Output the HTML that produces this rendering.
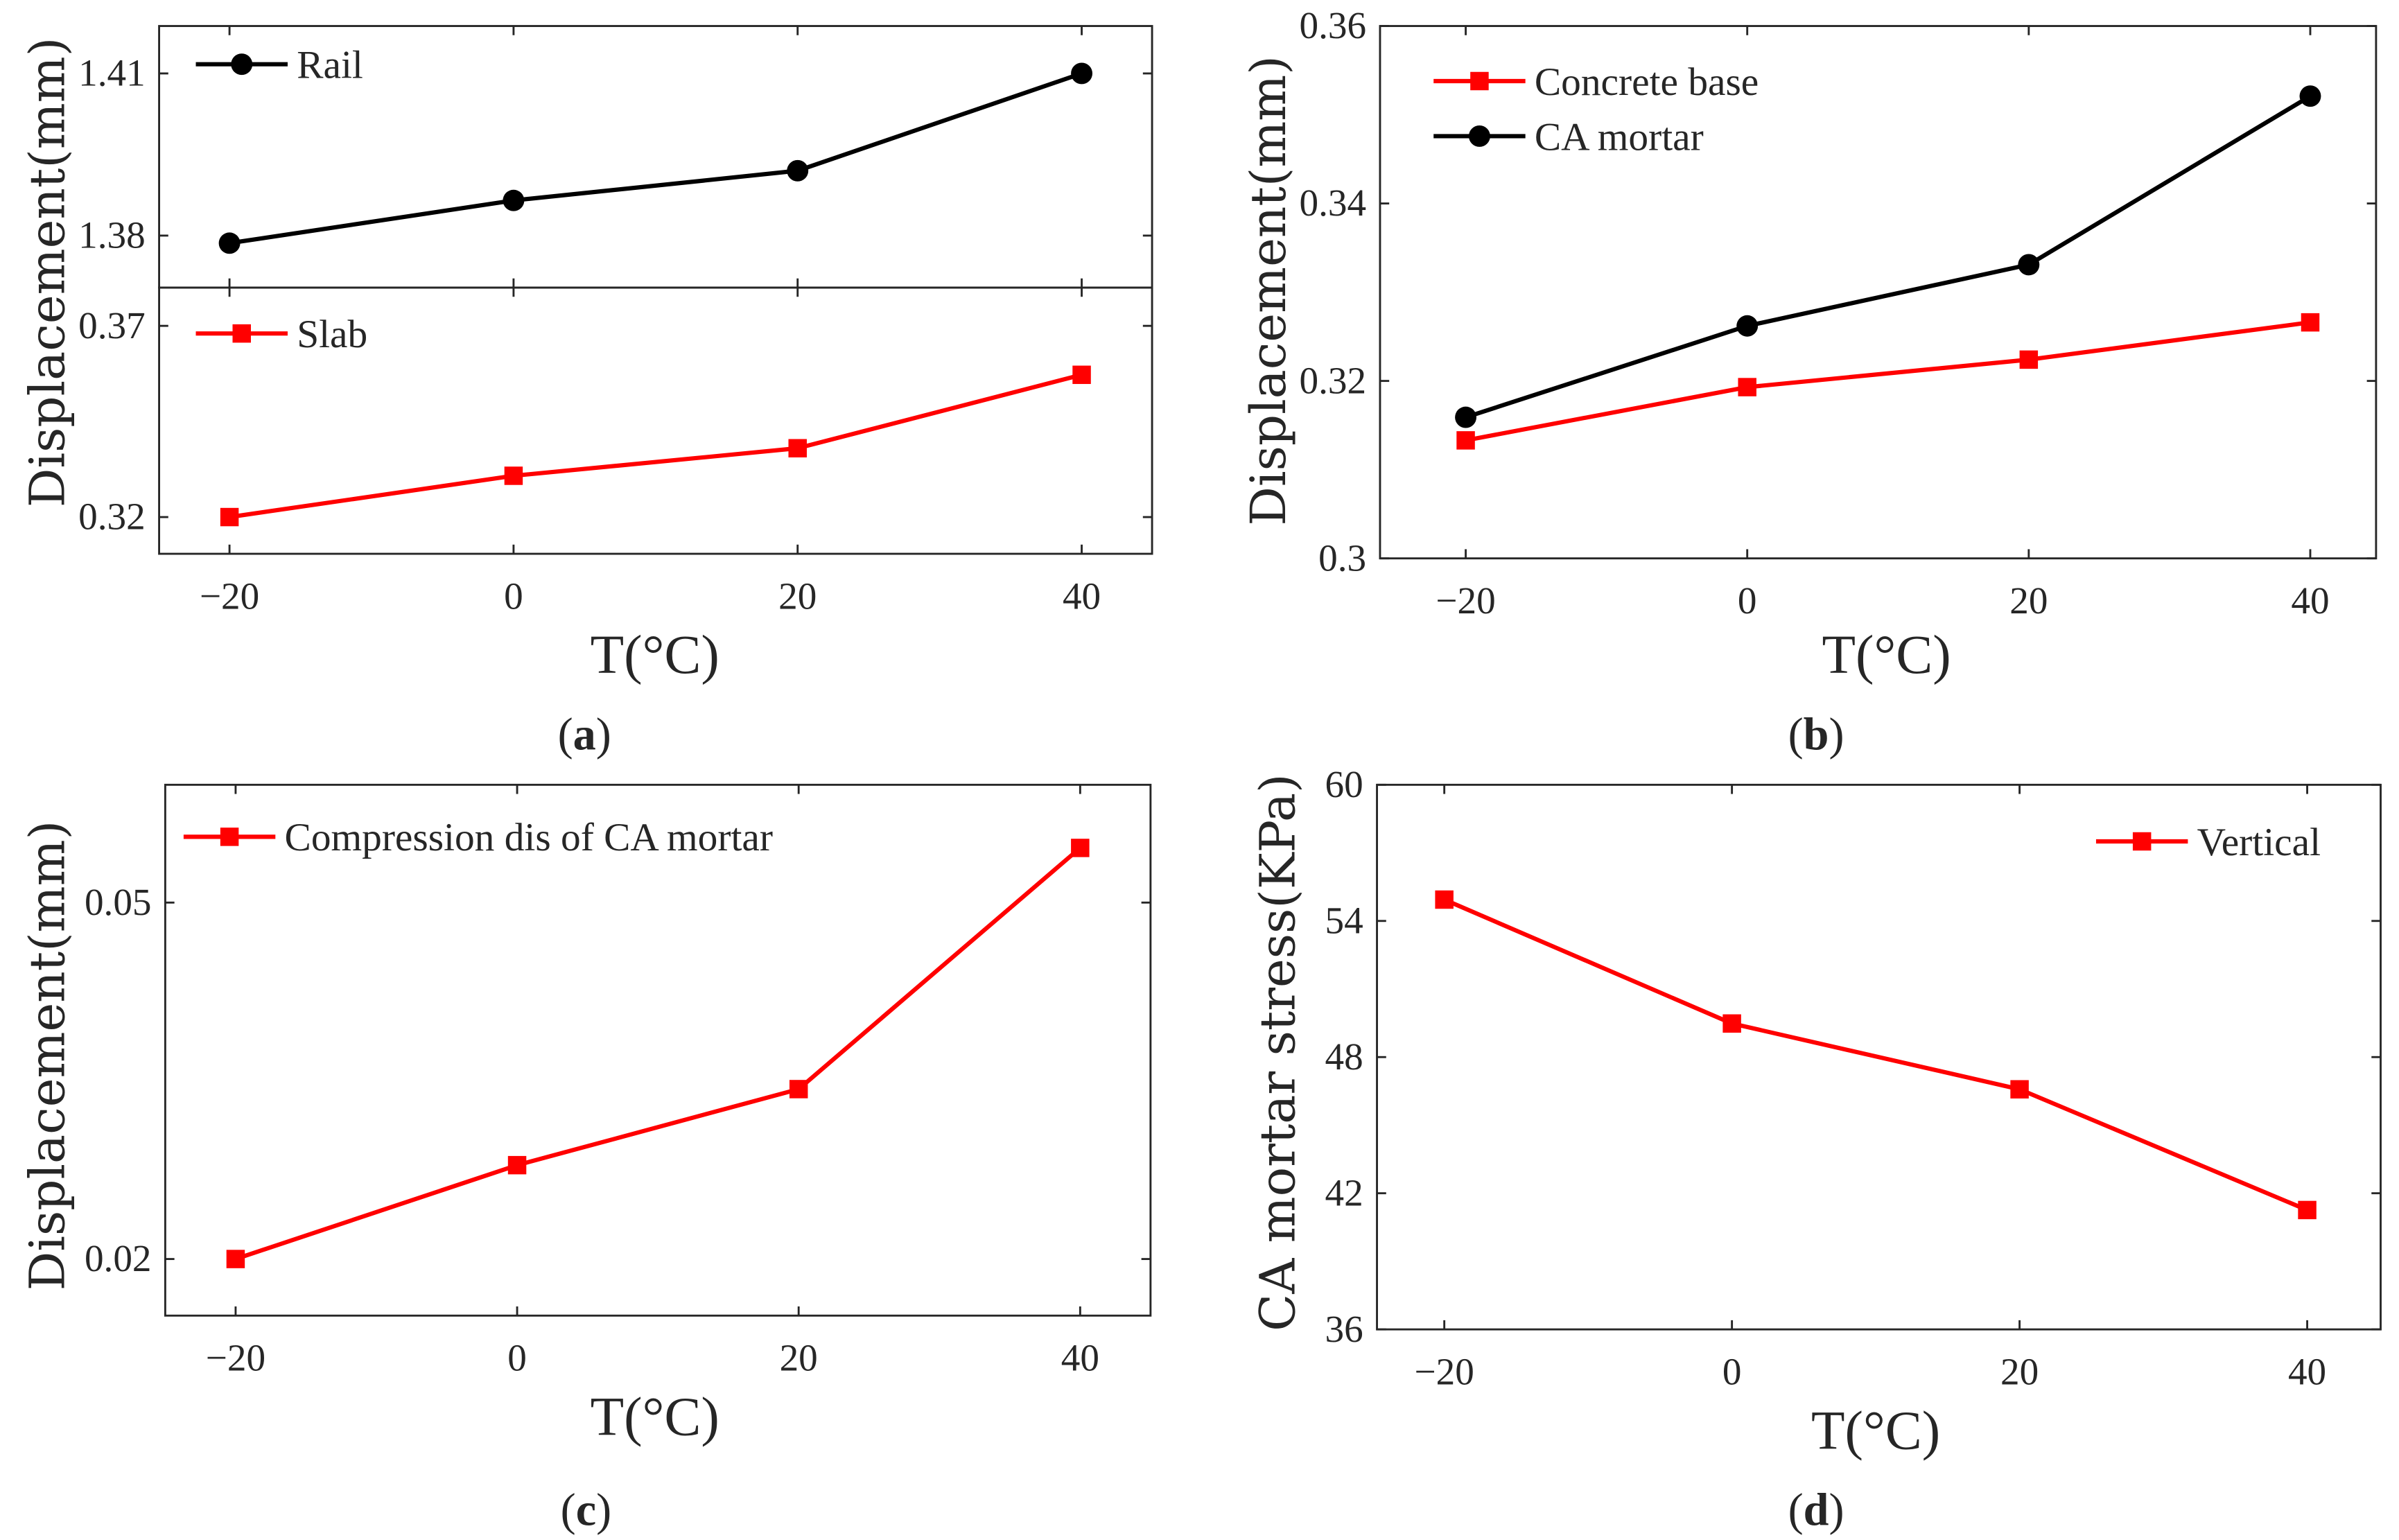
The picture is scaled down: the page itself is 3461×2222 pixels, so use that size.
<!DOCTYPE html>
<html><head><meta charset="utf-8"><style>
html,body{margin:0;padding:0;background:#fff}
svg{display:block}
text{font-family:"Liberation Serif",serif;fill:#262626}
</style></head><body>
<svg id="chart" width="3461" height="2222" viewBox="0 0 1568 1006.67" xmlns="http://www.w3.org/2000/svg"></svg>
<script>
const temps=[-20,0,20,40];
const xTicks=[-20,0,20,40];
const xTickLabels=['\u221220','0','20','40'];
const railValues=[1.3786,1.3865,1.392,1.41];
const slabValues=[0.32,0.3308,0.338,0.3572];
const concreteValues=[0.3133,0.3193,0.3224,0.3266];
const caMortarValues=[0.3159,0.3262,0.3331,0.3521];
const compressionValues=[0.02,0.0279,0.0343,0.0546];
const verticalValues=[54.94,49.48,46.58,41.26];
const ticksA1=[1.38,1.41], ticksA1Labels=['1.38','1.41'];
const ticksA2=[0.32,0.37], ticksA2Labels=['0.32','0.37'];
const ticksB=[0.3,0.32,0.34,0.36], ticksBLabels=['0.3','0.32','0.34','0.36'];
const ticksC=[0.02,0.05], ticksCLabels=['0.02','0.05'];
const ticksD=[36,42,48,54,60], ticksDLabels=['36','42','48','54','60'];

const NS='http://www.w3.org/2000/svg';
const svg=document.getElementById('chart');
function el(tag,attrs,parent,txt){const e=document.createElementNS(NS,tag);for(const k in attrs)e.setAttribute(k,attrs[k]);if(txt!==undefined)e.textContent=txt;(parent||svg).appendChild(e);return e;}
function lin(d0,d1,r0,r1){return v=>r0+(v-d0)/(d1-d0)*(r1-r0);}

function box(g,x0,y0,x1,y1,xs,ys,yt,ytl,showX){
  const r=el('rect',{x:x0,y:y0,width:x1-x0,height:y1-y0,fill:'none',stroke:'#262626','stroke-width':1.3},g);
  
  yt.forEach((v,i)=>{const y=ys(v);
    el('line',{x1:x0,x2:x0+6,y1:y,y2:y,stroke:'#262626','stroke-width':1.3},g);
    el('line',{x1:x1,x2:x1-6,y1:y,y2:y,stroke:'#262626','stroke-width':1.3},g);
    const t=el('text',{x:x0-9,y:y+8,'font-size':25,'text-anchor':'end'},g,ytl[i]);
    
  });
  xTicks.forEach((v,i)=>{const x=xs(v);
    el('line',{x1:x,x2:x,y1:y1,y2:y1-6,stroke:'#262626','stroke-width':1.3},g);
    el('line',{x1:x,x2:x,y1:y0,y2:y0+6,stroke:'#262626','stroke-width':1.3},g);
    if(showX){const t=el('text',{x:x,y:y1+36,'font-size':25,'text-anchor':'middle'},g,xTickLabels[i]);
    }
  });
}
function series(g,vals,xs,ys,color,marker,name){
  const pts=temps.map((t,i)=>[xs(t),ys(vals[i])]);
  const p=el('polyline',{points:pts.map(p=>p.join(',')).join(' '),fill:'none',stroke:color,'stroke-width':2.8},g);
  
  pts.forEach(([x,y])=>mark(g,x,y,color,marker,name));
}
function mark(g,x,y,color,marker,name){
  let m;
  if(marker==='circle')m=el('circle',{cx:x,cy:y,r:7,fill:color},g);
  else m=el('rect',{x:x-6,y:y-6,width:12,height:12,fill:color},g);
  
}
function legend(g,x,y,color,marker,label,name,len){
  el('line',{x1:x,x2:x+len,y1:y,y2:y,stroke:color,'stroke-width':2.8},g);
  mark(g,x+len/2,y,color,marker,name+'-legend');
  const t=el('text',{x:x+len+6,y:y+9,'font-size':26},g,label);
  
}
function labels(g,ylabel,ycx,ycy,tx,ty,cap,cx,cy){
  const a=el('text',{x:0,y:0,'font-size':32,'text-anchor':'middle',transform:`translate(${ycx},${ycy}) rotate(-90)`},g,ylabel);
  
  a.setAttribute('style','font-family:"DejaVu Serif",serif');
  const b=el('text',{x:tx,y:ty,'font-size':36,'text-anchor':'middle'},g,'T(\u00b0C)');
  
  const c=el('text',{x:cx,y:cy,'font-size':30,'text-anchor':'middle'},g);
  
  el('tspan',{},c,'(');el('tspan',{'font-weight':'bold'},c,cap);el('tspan',{},c,')');
}

// Panel a
let g=el('g',{});
let xs=lin(-20,40,150,707);
let ys=lin(1.38,1.41,154,48);
box(g,104,17,753,188,xs,ys,ticksA1,ticksA1Labels,false);
series(g,railValues,xs,ys,'#000','circle','rail');
legend(g,128,42,'#000','circle','Rail','rail',60);
ys=lin(0.32,0.37,338,213);
box(g,104,188,753,362,xs,ys,ticksA2,ticksA2Labels,true);
series(g,slabValues,xs,ys,'#f00','square','slab');
legend(g,128,218,'#f00','square','Slab','slab',60);
labels(g,'Displacement(mm)',42,178,428,440,'a',382,490);

// Panel b
g=el('g',{});
xs=lin(-20,40,958,1510);ys=lin(0.3,0.36,365,17);
box(g,902,17,1553,365,xs,ys,ticksB,ticksBLabels,true);
series(g,concreteValues,xs,ys,'#f00','square','concrete-base');
series(g,caMortarValues,xs,ys,'#000','circle','ca-mortar');
legend(g,937,53,'#f00','square','Concrete base','concrete-base',60);
legend(g,937,89,'#000','circle','CA mortar','ca-mortar',60);
labels(g,'Displacement(mm)',840,190,1233,440,'b',1187,490);

// Panel c
g=el('g',{});
xs=lin(-20,40,154,706);ys=lin(0.02,0.05,823,590);
box(g,108,513,752,860,xs,ys,ticksC,ticksCLabels,true);
series(g,compressionValues,xs,ys,'#f00','square','compression');
legend(g,120,547,'#f00','square','Compression dis of CA mortar','compression',60);
labels(g,'Displacement(mm)',42,690,428,938,'c',383,997);

// Panel d
g=el('g',{});
xs=lin(-20,40,944,1508);ys=lin(36,60,869,513);
box(g,900,513,1556,869,xs,ys,ticksD,ticksDLabels,true);
series(g,verticalValues,xs,ys,'#f00','square','vertical');
legend(g,1370,550,'#f00','square','Vertical','vertical',60);
labels(g,'CA mortar stress(KPa)',846,688,1226,947,'d',1187,997);
</script>
</body></html>
